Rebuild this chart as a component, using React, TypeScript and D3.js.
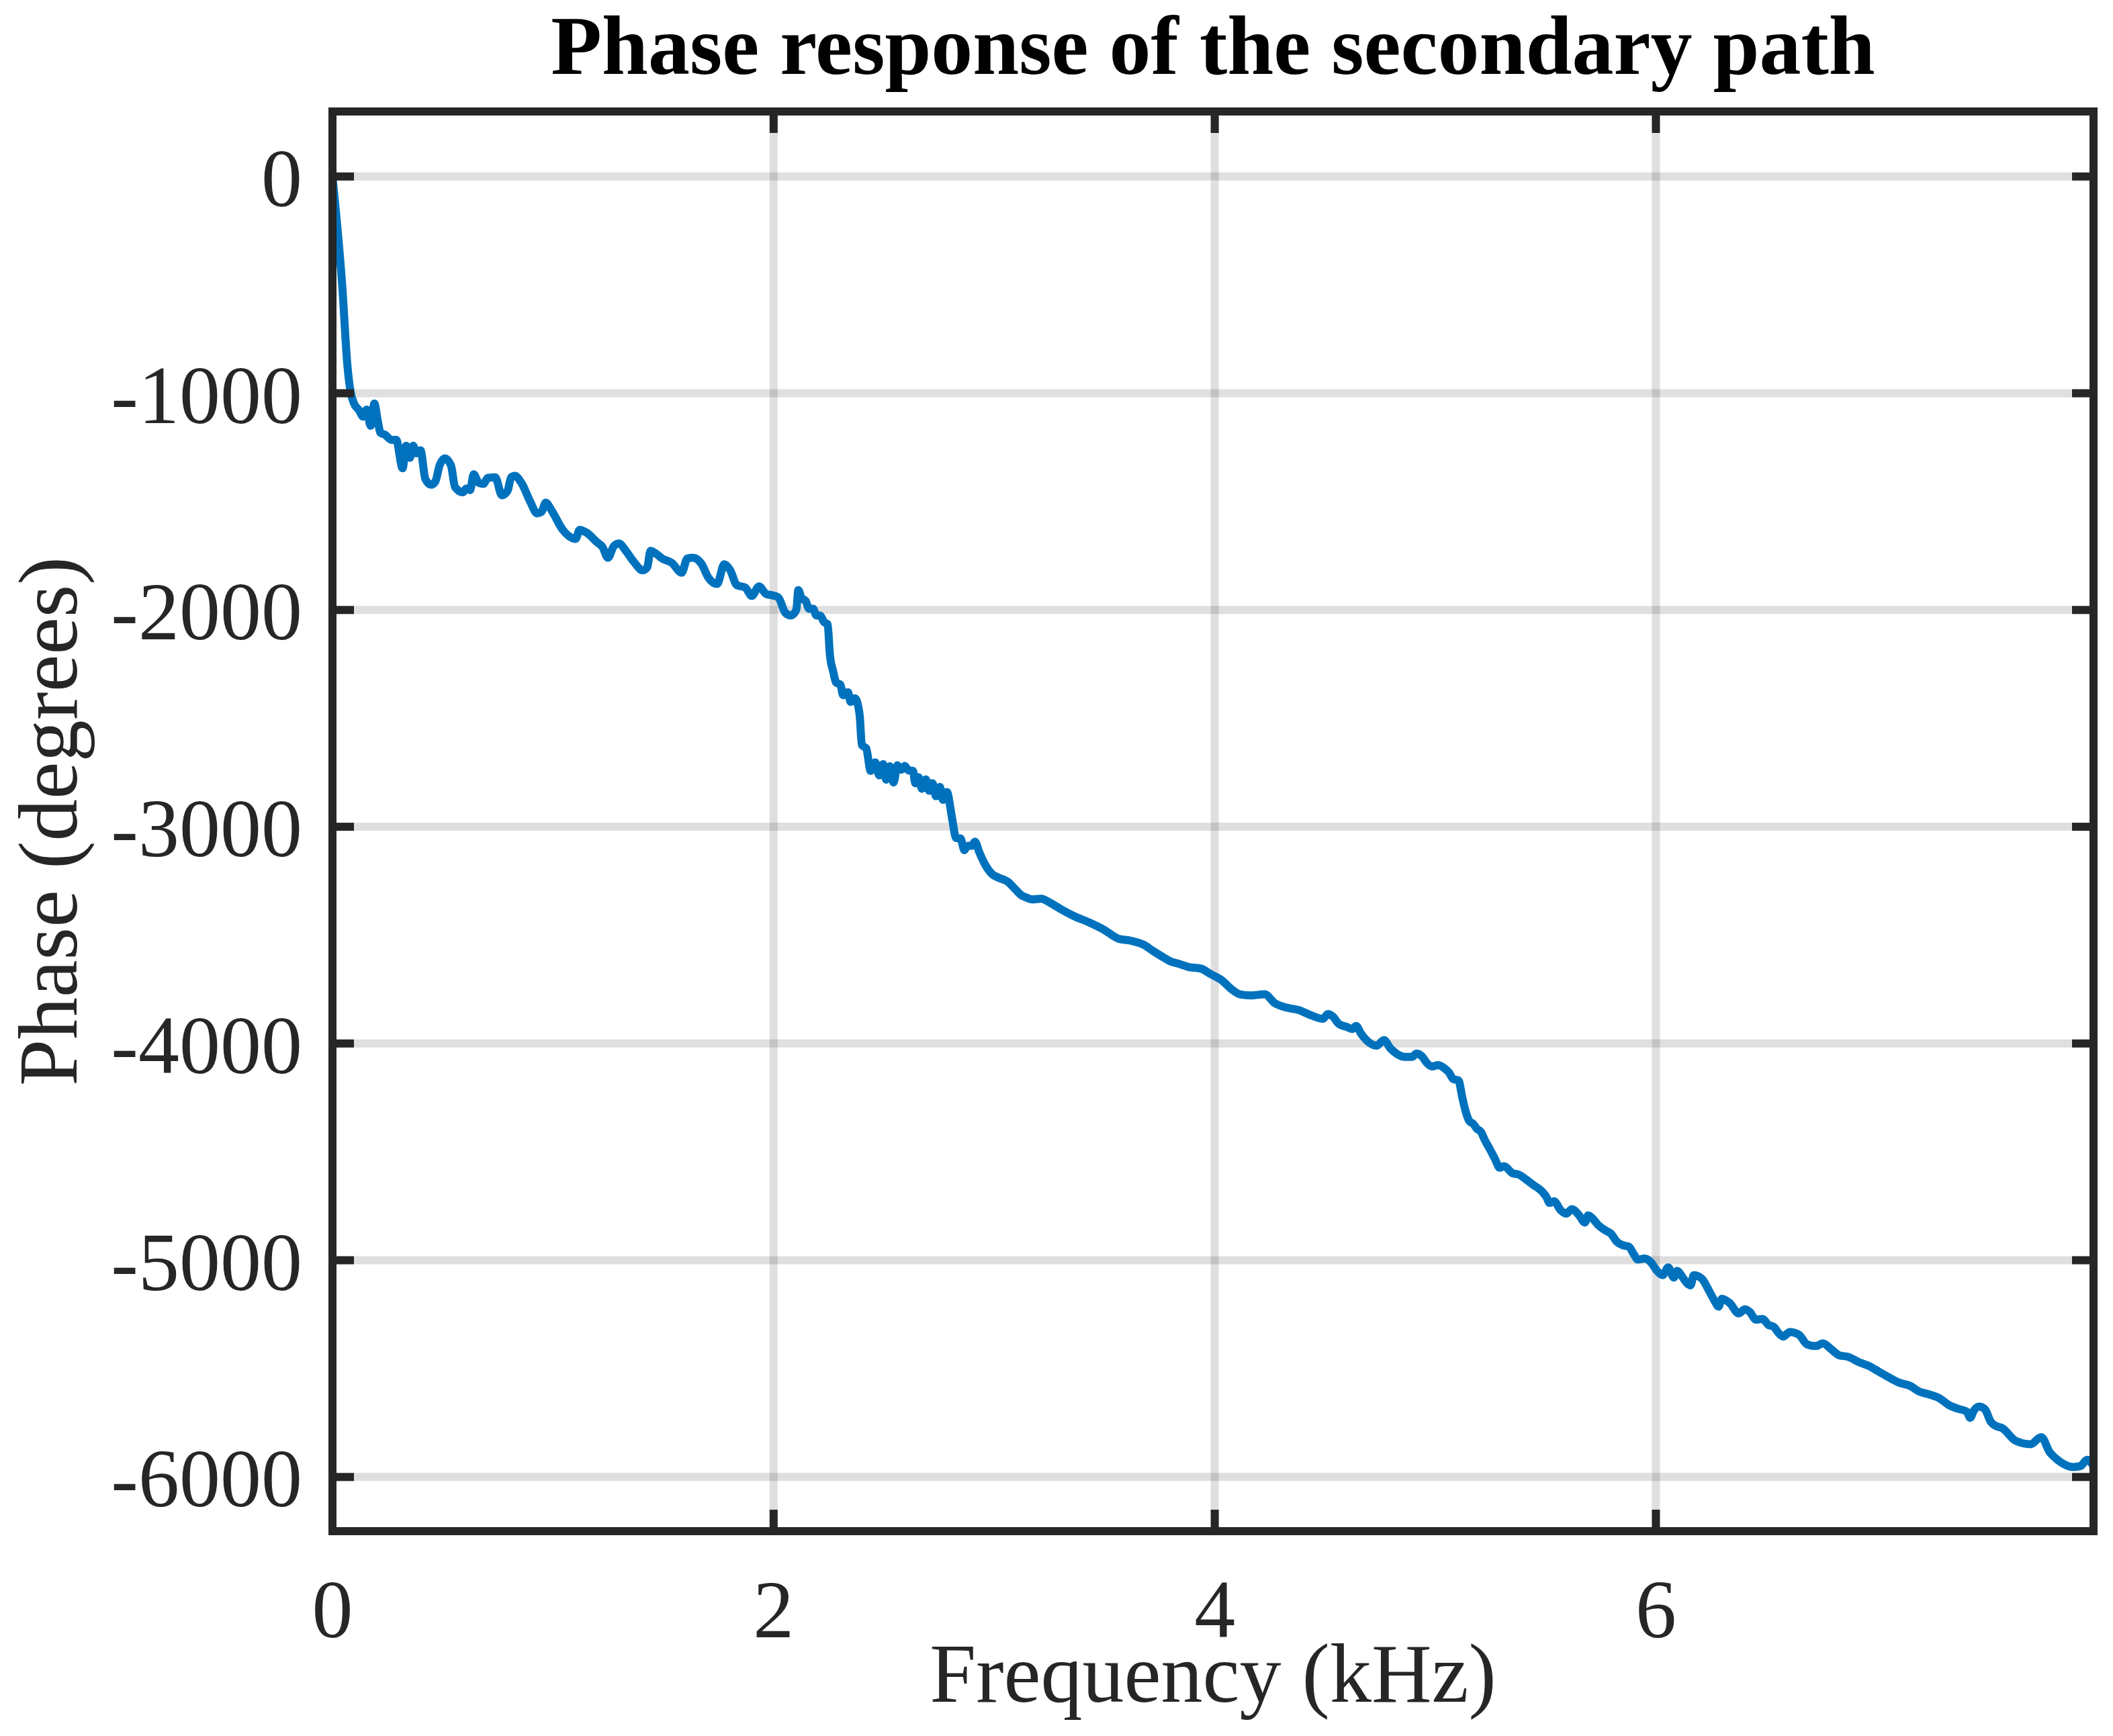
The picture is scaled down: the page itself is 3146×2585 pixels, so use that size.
import React from "react";
import * as d3 from "d3";

// Frequency in kHz, phase in degrees
const freqKHz: number[] = [
  0, 0.045, 0.068, 0.081, 0.098, 0.119, 0.139, 0.155, 0.173, 0.19, 0.205, 0.218, 0.238, 0.267, 0.289,
  0.318, 0.334, 0.351, 0.366, 0.38, 0.399, 0.421, 0.447, 0.466, 0.486, 0.509, 0.537, 0.556, 0.591,
  0.607, 0.624, 0.64, 0.663, 0.684, 0.704, 0.738, 0.768, 0.794, 0.81, 0.826, 0.858, 0.896, 0.928,
  0.948, 0.967, 0.993, 1.044, 1.076, 1.102, 1.121, 1.153, 1.198, 1.224, 1.249, 1.275, 1.298, 1.333,
  1.365, 1.407, 1.427, 1.442, 1.468, 1.494, 1.539, 1.583, 1.609, 1.635, 1.673, 1.705, 1.744, 1.776,
  1.802, 1.834,
  1.871, 1.901, 1.934, 1.967, 1.993, 2.021, 2.054, 2.079, 2.103, 2.112, 2.127, 2.145, 2.161, 2.179,
  2.194, 2.21, 2.229, 2.245, 2.255, 2.27, 2.283, 2.303, 2.315, 2.337, 2.349, 2.369, 2.39, 2.4, 2.42,
  2.44, 2.461, 2.479, 2.497, 2.51, 2.527, 2.544, 2.561, 2.578, 2.595, 2.611, 2.632, 2.642, 2.657,
  2.672, 2.69, 2.705, 2.72, 2.736, 2.754, 2.768, 2.786, 2.802, 2.812, 2.827, 2.847, 2.865, 2.878,
  2.898, 2.913, 2.933, 2.959, 2.989, 3.02, 3.061, 3.096, 3.122, 3.142, 3.172, 3.213, 3.254,
  3.31, 3.361, 3.432, 3.494, 3.565, 3.616, 3.677, 3.717, 3.758, 3.799, 3.839, 3.88, 3.936, 3.982,
  4.033, 4.073, 4.114, 4.165, 4.226, 4.272, 4.327, 4.378, 4.439, 4.49, 4.513, 4.536, 4.562, 4.597,
  4.623, 4.641, 4.663, 4.684, 4.734, 4.767, 4.795,
  4.823, 4.864, 4.894, 4.915, 4.94, 4.96, 4.986, 5.011, 5.041, 5.062, 5.082, 5.105, 5.122, 5.138,
  5.153, 5.173, 5.188, 5.207, 5.224, 5.249, 5.27, 5.292, 5.311, 5.351, 5.376, 5.412, 5.442, 5.483,
  5.503, 5.518, 5.538, 5.569, 5.594, 5.619, 5.65, 5.678, 5.693, 5.716, 5.736, 5.772, 5.797, 5.822,
  5.848, 5.878, 5.899, 5.919, 5.949, 5.975, 6.005, 6.03, 6.056, 6.081, 6.096, 6.122, 6.142, 6.157,
  6.172, 6.208, 6.243, 6.269, 6.284, 6.299, 6.335, 6.375,
  6.404, 6.427, 6.453, 6.484, 6.51, 6.535, 6.556, 6.577, 6.607, 6.649, 6.685, 6.726, 6.757, 6.793,
  6.834, 6.87, 6.916, 6.968, 7.009, 7.055, 7.101, 7.153, 7.194, 7.235, 7.286, 7.328, 7.369, 7.41,
  7.425, 7.441, 7.466, 7.492, 7.518, 7.544, 7.569, 7.631, 7.698, 7.747, 7.785, 7.821, 7.852, 7.893,
  7.924, 7.955, 7.984,
];

const phaseDeg: number[] = [
  0, -515, -875, -986, -1048, -1076, -1108, -1076, -1150, -1048, -1125, -1183, -1191, -1215, -1215,
  -1346, -1242, -1298, -1242, -1277, -1263, -1395, -1422, -1408, -1332, -1300, -1332, -1433, -1457,
  -1440, -1447, -1374, -1413, -1418, -1391, -1388, -1471, -1450, -1388, -1381, -1416, -1499, -1554,
  -1547, -1505, -1540, -1630, -1662, -1672, -1630, -1644, -1686, -1709, -1759, -1706, -1693, -1731,
  -1776, -1817, -1803, -1727, -1741, -1762, -1783, -1828, -1762, -1759, -1787, -1852, -1880, -1789,
  -1814, -1886,
  -1896, -1935, -1891, -1927, -1932, -1942, -2014, -2025, -1999, -1908, -1945, -1958, -1994, -1994,
  -2025, -2025, -2056, -2066, -2205, -2283, -2334, -2345, -2393, -2379, -2424, -2407, -2484, -2623,
  -2639, -2742, -2703, -2763, -2711, -2783, -2721, -2796, -2716, -2737, -2719, -2740, -2742, -2799,
  -2771, -2825, -2781, -2834, -2799, -2859, -2816, -2876, -2840, -2917, -2979, -3052, -3054, -3108,
  -3088, -3088, -3069, -3119, -3175, -3217, -3235, -3253, -3289, -3315, -3325, -3335, -3332, -3351,
  -3385, -3412, -3442, -3473, -3517, -3525, -3544, -3571, -3597, -3621, -3633, -3647, -3654, -3680,
  -3709, -3747, -3773, -3778, -3773, -3814, -3835, -3845, -3871, -3886, -3864, -3876, -3909, -3923,
  -3933, -3919, -3954, -3981, -4010, -3984, -4021,
  -4046, -4062, -4062, -4046, -4060, -4088, -4106, -4100, -4114, -4134, -4165, -4170, -4248, -4315,
  -4356, -4372, -4393, -4408, -4445, -4491, -4532, -4573, -4566, -4599, -4604, -4628, -4651, -4682,
  -4707, -4736, -4728, -4770, -4785, -4764, -4790, -4826, -4793, -4811, -4835, -4863, -4878, -4914,
  -4930, -4938, -4971, -4997, -4992, -5007, -5049, -5069, -5033, -5080, -5049, -5080, -5107, -5116,
  -5069, -5085, -5145, -5193, -5214, -5178, -5198, -5245,
  -5226, -5240, -5274, -5271, -5298, -5308, -5336, -5352, -5331, -5344, -5388, -5396, -5383, -5409,
  -5440, -5445, -5468, -5489, -5513, -5540, -5564, -5580, -5606, -5618, -5637, -5668, -5685, -5699,
  -5727, -5694, -5675, -5688, -5745, -5766, -5774, -5833, -5849, -5816, -5885, -5921, -5942, -5954,
  -5950, -5921, -5950,
];

const xTicks: number[] = [0, 2, 4, 6];
const yTicks: number[] = [0, -1000, -2000, -3000, -4000, -5000, -6000];
const xDomain: [number, number] = [0, 7.984];
const yDomain: [number, number] = [-6250, 300];

const titleText = "Phase response of the secondary path";
const xLabelText = "Frequency (kHz)";
const yLabelText = "Phase (degrees)";

export default function App() {
  const width = 3146;
  const height = 2585;
  const x0 = 495;
  const x1 = 3117;
  const y0 = 166;
  const y1 = 2280;

  const xScale = d3.scaleLinear().domain(xDomain).range([x0, x1]);
  const yScale = d3.scaleLinear().domain(yDomain).range([y1, y0]);

  const points: [number, number][] = freqKHz.map((f, i) => [f, phaseDeg[i]]);
  const line = d3
    .line<[number, number]>()
    .x((d) => xScale(d[0]))
    .y((d) => yScale(d[1]))
    .curve(d3.curveMonotoneX);

  const axisColor = "#262626";
  const font = "'Liberation Serif', 'Times New Roman', serif";
  const tickLen = 32;

  return (
    <svg
      width={width}
      height={height}
      viewBox={`0 0 ${width} ${height}`}
      style={{ position: "absolute", left: 0, top: 0, background: "#ffffff" }}
    >
      <rect x={0} y={0} width={width} height={height} fill="#ffffff" />
      <defs>
        <clipPath id="plot-clip">
          <rect x={x0} y={y0} width={x1 - x0} height={y1 - y0} />
        </clipPath>
      </defs>

      {/* grid */}
      <g stroke={axisColor} strokeOpacity={0.15} strokeWidth={12}>
        {xTicks.map((t) => (
          <line key={`gx${t}`} x1={xScale(t)} x2={xScale(t)} y1={y0} y2={y1} />
        ))}
        {yTicks.map((t) => (
          <line key={`gy${t}`} x1={x0} x2={x1} y1={yScale(t)} y2={yScale(t)} />
        ))}
      </g>

      {/* data */}
      <path
        d={line(points) || ""}
        fill="none"
        stroke="#0072BD"
        strokeWidth={12}
        strokeLinejoin="round"
        strokeLinecap="round"
        clipPath="url(#plot-clip)"
      />

      {/* ticks */}
      <g stroke={axisColor} strokeWidth={12}>
        {xTicks.map((t) => (
          <g key={`tx${t}`}>
            <line x1={xScale(t)} x2={xScale(t)} y1={y1} y2={y1 - tickLen} />
            <line x1={xScale(t)} x2={xScale(t)} y1={y0} y2={y0 + tickLen} />
          </g>
        ))}
        {yTicks.map((t) => (
          <g key={`ty${t}`}>
            <line x1={x0} x2={x0 + tickLen} y1={yScale(t)} y2={yScale(t)} />
            <line x1={x1} x2={x1 - tickLen} y1={yScale(t)} y2={yScale(t)} />
          </g>
        ))}
      </g>

      {/* box */}
      <rect
        x={x0}
        y={y0}
        width={x1 - x0}
        height={y1 - y0}
        fill="none"
        stroke={axisColor}
        strokeWidth={12}
      />

      {/* tick labels */}
      <g fontFamily={font} fontSize={122} fill={axisColor}>
        {xTicks.map((t) => (
          <text key={`lx${t}`} x={xScale(t)} y={2438} textAnchor="middle">
            {t}
          </text>
        ))}
        {yTicks.map((t) => (
          <text key={`ly${t}`} x={450} y={yScale(t) + 44} textAnchor="end">
            {t}
          </text>
        ))}
      </g>

      {/* axis labels */}
      <text
        x={(x0 + x1) / 2}
        y={2534}
        textAnchor="middle"
        fontFamily={font}
        fontSize={124}
        fill={axisColor}
      >
        {xLabelText}
      </text>
      <text
        transform={`translate(114, ${(y0 + y1) / 2}) rotate(-90)`}
        textAnchor="middle"
        fontFamily={font}
        fontSize={125}
        fill={axisColor}
      >
        {yLabelText}
      </text>

      {/* title */}
      <text
        x={(x0 + x1) / 2}
        y={110}
        textAnchor="middle"
        fontFamily={font}
        fontSize={124}
        fontWeight="bold"
        fill="#000000"
      >
        {titleText}
      </text>
    </svg>
  );
}
